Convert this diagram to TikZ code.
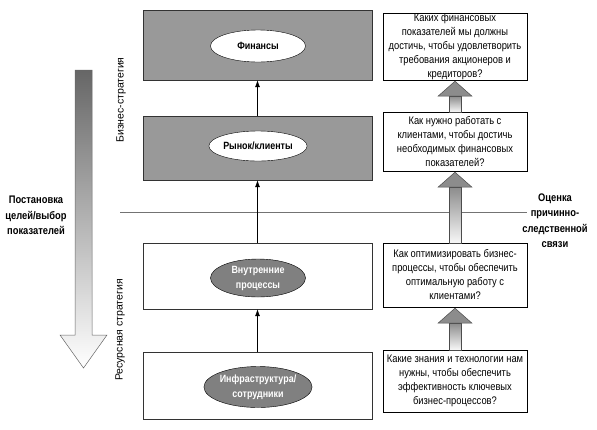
\documentclass[tikz,border=0pt]{standalone}
\usepackage{fontspec}
\setmainfont{Liberation Sans}
\newfontfamily\narrowfont{Liberation Sans}[FakeStretch=0.85]
\usetikzlibrary{calc,arrows.meta,shapes.geometric}
\begin{document}
\begin{tikzpicture}[x=1pt,y=-1pt,
  lbox/.style={draw=black!80, minimum width=229pt, inner sep=0pt},
  darkbox/.style={lbox, fill=black!40},
  lightbox/.style={lbox, fill=white},
  ell/.style={ellipse, draw=black, minimum width=95pt, inner sep=0pt, align=center,
    font=\narrowfont\bfseries\fontsize{10.5}{15}\selectfont},
  whiteell/.style={ell, fill=white},
  grayell/.style={ell, fill=black!50, text=white},
  qbox/.style={draw=black, fill=white, minimum width=144pt, inner sep=0pt, align=center,
    font=\narrowfont\fontsize{11}{14}\selectfont},
  boldtext/.style={align=center, inner sep=0pt, font=\narrowfont\bfseries\fontsize{11}{15.5}\selectfont},
  sidetext/.style={rotate=90, inner sep=0pt, font=\fontsize{10.5}{12}\selectfont},
  conn/.style={-{Latex[length=7pt,width=5pt]}, black, line width=0.6pt},
  fatshaft/.style={draw=black!70, line width=0.5pt, top color=black!45, bottom color=black!3},
  fathead/.style={draw=black!70, line width=0.5pt, fill=black!45},
]
\useasboundingbox (0,0) rectangle (597,429);

% horizontal divider
\coordinate (hl) at (120,212);
\coordinate (hr) at (527,212);
\draw[black!55, line width=0.9pt] (hl) -- (hr);

% left big arrow
\path[draw=black!60, line width=0.5pt, top color=black!60, bottom color=white]
  (75,70) -- (92,70) -- (92,335) -- (107,335) -- (83.5,368) -- (60,335) -- (75,335) -- cycle;

% left boxes
\node[darkbox, minimum height=70pt] (b1) at (257.5,45) {};
\node[darkbox, minimum height=64pt] (b2) at (257.5,148) {};
\node[lightbox, minimum height=66pt] (b3) at (257.5,276) {};
\node[lightbox, minimum height=67pt] (b4) at (257.5,385.5) {};

% ellipses
\node[whiteell, minimum height=32pt] (e1) at (258,46) {Финансы};
\node[whiteell, minimum height=30pt] (e2) at (258,146) {Рынок/клиенты};
\node[grayell, minimum height=38pt] (e3) at (258,278) {Внутренние\\процессы};
\node[grayell, minimum height=41pt] (e4) at (258,387) {Инфраструктура/\\сотрудники};

% connectors
\draw[conn] (b2.north) -- (b1.south);
\draw[conn] (b3.north) -- (b2.south);
\draw[conn] (b4.north) -- (b3.south);

% question boxes
\node[qbox, minimum height=67pt] (q1) at (455,46.5)
  {Каких финансовых\\показателей мы должны\\достичь, чтобы удовлетворить\\требования акционеров и\\кредиторов?};
\node[qbox, minimum height=59pt] (q2) at (455,141.5)
  {Как нужно работать с\\клиентами, чтобы достичь\\необходимых финансовых\\показателей?};
\node[qbox, minimum height=64pt] (q3) at (455,275)
  {Как оптимизировать бизнес-\\процессы, чтобы обеспечить\\оптимальную работу с\\клиентами?};
\node[qbox, minimum height=62pt] (q4) at (455,381)
  {Какие знания и технологии нам\\нужны, чтобы обеспечить\\эффективность ключевых\\бизнес-процессов?};

% fat arrows between question boxes
\newcommand\fatconn[2]{%
  \path[fatshaft] let \p1=(#1.north), \p2=(#2.south) in
    (\x1-6pt,\y1) rectangle (\x1+6pt,\y2-16pt);
  \path[fathead] let \p1=(#1.north), \p2=(#2.south) in
    (\x1-17pt,\y2-16pt) -- (\x1,\y2-1pt) -- (\x1+17pt,\y2-16pt) -- cycle;}
\fatconn{q2}{q1}
\fatconn{q3}{q2}
\fatconn{q4}{q3}

% side texts
\node[boldtext] (goal) at (36,215.5) {Постановка\\целей/выбор\\показателей};
\node[boldtext] (eval) at (555,220.5) {Оценка\\причинно-\\следственной\\связи};
\node[sidetext] (biz) at (121,100) {Бизнес-стратегия};
\node[sidetext] (res) at (120,330) {Ресурсная стратегия};
\end{tikzpicture}
\end{document}
